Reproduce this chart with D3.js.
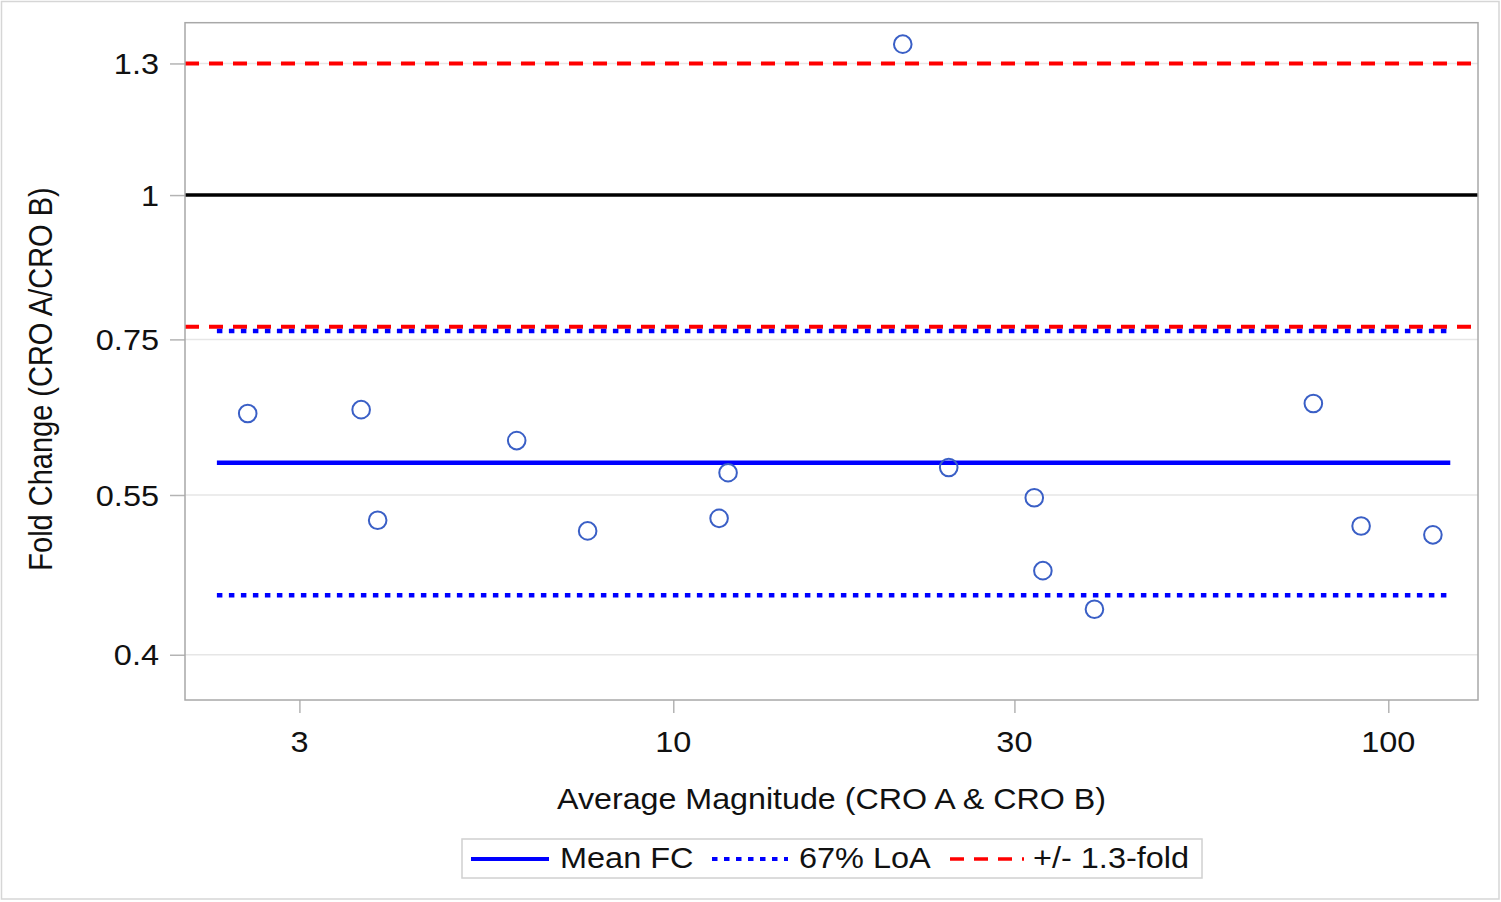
<!DOCTYPE html>
<html>
<head>
<meta charset="utf-8">
<script src="https://cdn.jsdelivr.net/npm/d3@7"></script>
<style>
  html, body { margin: 0; padding: 0; background: #fff; }
  svg { display: block; }
  text { font-family: "Liberation Sans", Arial, sans-serif; fill: #111; }
</style>
</head>
<body>
<svg id="chart" width="1501" height="902"></svg>
<script>
// ---- data ----
const avgMagnitude = [2.54, 3.66, 3.86, 6.04, 7.59, 11.59, 11.93, 20.94, 24.28, 31.98, 32.88, 38.82, 78.56, 91.62, 115.45];
const foldChange   = [0.647, 0.652, 0.523, 0.613, 0.512, 0.525, 0.575, 1.351, 0.581, 0.547, 0.473, 0.438, 0.660, 0.517, 0.508];
const meanFC = 0.5865;
const loa67 = [0.4504, 0.7626];
const foldLimits = [1 / 1.3, 1.3];
const refLine = 1;
const statLineExtent = [2.30, 122.1];
const xDomain = [2.0755, 133.5];
const yDomain = [0.3655, 1.41];
const xTicks = [3, 10, 30, 100];
const yTicks = [0.4, 0.55, 0.75, 1, 1.3];
const yTickLabels = ["0.4", "0.55", "0.75", "1", "1.3"];
const legendItems = ["Mean FC", "67% LoA", "+/- 1.3-fold"];

// ---- layout ----
const svg = d3.select("#chart");
const L = 185, R = 1478, T = 22.7, B = 700;
const SX = 1.09;           // horizontal stretch of text in the reference
const FS = 29.8;

const x = d3.scaleLog().domain(xDomain).range([L, R]);
const y = d3.scaleLog().domain(yDomain).range([B, T]);

// outer frame
svg.append("rect").attr("x", 1.5).attr("y", 1.5).attr("width", 1497.5).attr("height", 897.5)
  .attr("fill", "#fff").attr("stroke", "#d6d6d6").attr("stroke-width", 1.5);

// gridlines
svg.append("g").selectAll("line").data(yTicks).join("line")
  .attr("x1", L).attr("x2", R).attr("y1", d => y(d)).attr("y2", d => y(d))
  .attr("stroke", "#e6e6e6").attr("stroke-width", 1.5);

// axes (ticks only, custom labels)
const yAxis = d3.axisLeft(y).tickValues(yTicks).tickSize(15).tickFormat("");
const gy = svg.append("g").attr("transform", `translate(${L},0)`).call(yAxis);
const xAxis = d3.axisBottom(x).tickValues(xTicks).tickSize(13).tickFormat("");
const gx = svg.append("g").attr("transform", `translate(0,${B})`).call(xAxis);
[gx, gy].forEach(g => {
  g.select(".domain").remove();
  g.selectAll(".tick line").attr("stroke", "#b4b4b4").attr("stroke-width", 1.5);
});

// y tick labels
svg.append("g").selectAll("text").data(yTicks).join("text")
  .attr("transform", d => `translate(159,${y(d)}) scale(${SX},1)`)
  .attr("text-anchor", "end").attr("dy", "0.36em")
  .style("font-size", FS + "px")
  .text((d, i) => yTickLabels[i]);

// x tick labels
svg.append("g").selectAll("text").data(xTicks).join("text")
  .attr("transform", d => `translate(${x(d)},752) scale(${SX},1)`)
  .attr("text-anchor", "middle")
  .style("font-size", FS + "px")
  .text(d => d);

// axis titles
svg.append("text")
  .attr("transform", `translate(${(L + R) / 2},809) scale(1.1,1)`)
  .attr("text-anchor", "middle").style("font-size", "29.3px")
  .text("Average Magnitude (CRO A & CRO B)");
svg.append("text")
  .attr("transform", `translate(52,379) scale(1.12,1) rotate(-90)`)
  .attr("text-anchor", "middle").style("font-size", "29px")
  .text("Fold Change (CRO A/CRO B)");

// reference lines
const plot = svg.append("g");
// +/- 1.3 fold (full width)
plot.selectAll("line.fold").data(foldLimits).join("line").attr("class", "fold")
  .attr("x1", L).attr("x2", R).attr("y1", d => y(d)).attr("y2", d => y(d))
  .attr("stroke", "#ff0000").attr("stroke-width", 4).attr("stroke-dasharray", "14,10");
// identity line
plot.append("line").attr("x1", L).attr("x2", R).attr("y1", y(refLine)).attr("y2", y(refLine))
  .attr("stroke", "#000").attr("stroke-width", 3.5);
// 67% LoA
plot.selectAll("line.loa").data(loa67).join("line").attr("class", "loa")
  .attr("x1", x(statLineExtent[0])).attr("x2", x(statLineExtent[1]))
  .attr("y1", d => y(d)).attr("y2", d => y(d))
  .attr("stroke", "#0000ff").attr("stroke-width", 4.5).attr("stroke-dasharray", "5.5,6.5");
// mean FC
plot.append("line")
  .attr("x1", x(statLineExtent[0])).attr("x2", x(statLineExtent[1]))
  .attr("y1", y(meanFC)).attr("y2", y(meanFC))
  .attr("stroke", "#0000ff").attr("stroke-width", 4.5);

// points
const pts = avgMagnitude.map((v, i) => ({ x: v, y: foldChange[i] }));
plot.selectAll("circle").data(pts).join("circle")
  .attr("cx", d => x(d.x)).attr("cy", d => y(d.y)).attr("r", 8.8)
  .attr("fill", "none").attr("stroke", "#3a5fc6").attr("stroke-width", 2);

// plot frame
svg.append("rect").attr("x", L).attr("y", T).attr("width", R - L).attr("height", B - T)
  .attr("fill", "none").attr("stroke", "#a8a8a8").attr("stroke-width", 1.5);

// legend
const lg = svg.append("g");
lg.append("rect").attr("x", 462).attr("y", 839).attr("width", 740).attr("height", 39)
  .attr("fill", "#fff").attr("stroke", "#d0d0d0").attr("stroke-width", 1.5);
const legendSpec = [
  { x1: 471, x2: 549, tx: 560, color: "#0000ff", dash: null, w: 4 },
  { x1: 712, x2: 788, tx: 799, color: "#0000ff", dash: "5.5,6.5", w: 4 },
  { x1: 950, x2: 1024, tx: 1033, color: "#ff0000", dash: "14,10", w: 3.5 }
];
legendSpec.forEach((s, i) => {
  const ln = lg.append("line").attr("x1", s.x1).attr("x2", s.x2).attr("y1", 859).attr("y2", 859)
    .attr("stroke", s.color).attr("stroke-width", s.w);
  if (s.dash) ln.attr("stroke-dasharray", s.dash);
  lg.append("text").attr("transform", `translate(${s.tx},868) scale(${SX},1)`)
    .style("font-size", FS + "px").text(legendItems[i]);
});
</script>
</body>
</html>
